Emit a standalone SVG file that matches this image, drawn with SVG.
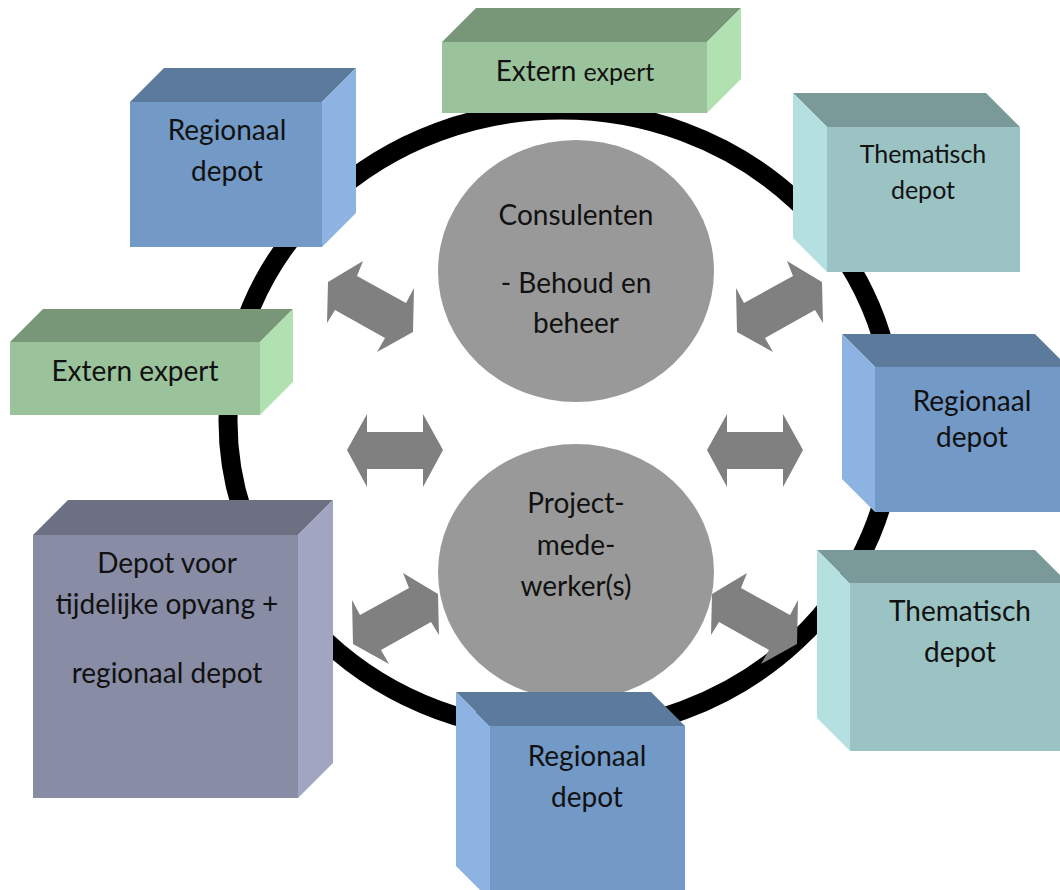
<svg xmlns="http://www.w3.org/2000/svg" width="1060" height="890" viewBox="0 0 1060 890">
<style>
text{font-family:Lato,"Liberation Sans",sans-serif;font-size:28px;fill:#111;text-anchor:middle}
.bf{fill:#7399C6}.bt{fill:#5B7A9C}.bs{fill:#8DB3E2}
.gf{fill:#9BC39B}.gt{fill:#789778}.gs{fill:#B1E0B1}
.tf{fill:#9CC3C3}.tt{fill:#7A9A99}.ts{fill:#B4E0E0}
.pf{fill:#898CA5}.pt{fill:#6D7083}.ps{fill:#A2A5C1}
.edge{stroke:#ffffff;stroke-opacity:0.35;stroke-width:1}
.arr{fill:#808080}
.hub{fill:#999999}
</style>
<rect width="1060" height="890" fill="#ffffff"/>
<g id="ring"><ellipse cx="561" cy="421" rx="333" ry="311" fill="none" stroke="#000" stroke-width="19"/></g>
<g id="consulenten"><ellipse class="hub" cx="576" cy="271" rx="138" ry="131"/>
<text x="576" y="225">Consulenten</text><text x="576" y="293">- Behoud en</text><text x="576" y="333">beheer</text></g>
<g id="projectmedewerkers"><ellipse class="hub" cx="576" cy="572" rx="138" ry="128"/>
<text x="576" y="513">Project-</text><text x="576" y="555">mede-</text><text x="576" y="596">werker(s)</text></g>
<g id="connectors">
<polygon class="arr" points="363,261 357,276 406,303 414,288 413,332 377,352 385,338 335,310 327,323 328,282"/>
<polygon class="arr" points="787,261 793,276 744,303 736,288 737,332 773,352 765,338 815,310 823,323 822,282"/>
<polygon class="arr" points="347,450 367,414 367,432 423,432 423,414 443,450 423,487 423,469 367,469 367,487"/>
<polygon class="arr" points="803,450 783,414 783,432 727,432 727,414 707,450 727,487 727,469 783,469 783,487"/>
<polygon class="arr" points="403,573 409,588 360,615 352,600 353,644 389,664 381,650 431,622 439,635 438,594"/>
<polygon class="arr" points="747,573 741,588 790,615 798,600 797,644 761,664 769,650 719,622 711,635 712,594"/>
</g>
<g id="regionaal-depot-1">
<polygon class="bt" points="130,102 164,68 356,68 322,102"/>
<polygon class="bs" points="322,102 356,68 356,213 322,247"/>
<rect class="bf" x="130" y="102" width="192" height="145"/>
<text x="227" y="140">Regionaal</text><text x="227" y="181">depot</text></g>
<g id="extern-expert-1">
<polygon class="gt" points="442,42 476,8 741,8 707,42"/>
<polygon class="gs" points="707,42 741,8 741,79 707,113"/>
<rect class="gf" x="442" y="42" width="265" height="71"/>
<text x="575" y="81">Extern <tspan style="font-size:25px">expert</tspan></text></g>
<g id="thematisch-depot-1">
<polygon class="tt" points="793,93 986,93 1020,127 827,127"/>
<polygon class="ts" points="793,93 827,127 827,272 793,238"/>
<rect class="tf" x="827" y="127" width="193" height="145"/>
<text x="923" y="163" style="font-size:25px">Thematisch</text><text x="923" y="199" style="font-size:25px">depot</text></g>
<g id="extern-expert-2">
<polygon class="gt" points="10,342 43,309 293,309 260,342"/>
<polygon class="gs" points="260,342 293,309 293,382 260,415"/>
<rect class="gf" x="10" y="342" width="250" height="73"/>
<text x="135" y="381">Extern expert</text></g>
<g id="regionaal-depot-2">
<polygon class="bt" points="842,334 1035,334 1068,367 875,367"/>
<polygon class="bs" points="842,334 875,367 875,512 842,479"/>
<rect class="bf" x="875" y="367" width="193" height="145"/>
<text x="972" y="411">Regionaal</text><text x="972" y="447">depot</text></g>
<g id="thematisch-depot-2">
<polygon class="tt" points="817,550 1035,550 1068,583 850,583"/>
<polygon class="ts" points="817,550 850,583 850,751 817,718"/>
<rect class="tf" x="850" y="583" width="218" height="168"/>
<text x="960" y="621">Thematisch</text><text x="960" y="662">depot</text></g>
<g id="regionaal-depot-3">
<polygon class="bt" points="456,692 651,692 685,726 490,726"/>
<polygon class="bs" points="456,692 490,726 490,900 456,866"/>
<rect class="bf" x="490" y="726" width="195" height="174"/>
<text x="587" y="766">Regionaal</text><text x="587" y="807">depot</text></g>
<g id="depot-tijdelijke-opvang">
<polygon class="pt" points="33,535 68,500 333,500 298,535"/>
<polygon class="ps" points="298,535 333,500 333,763 298,798"/>
<rect class="pf" x="33" y="535" width="265" height="263"/>
<text x="167" y="573">Depot voor</text><text x="167" y="614">tijdelijke opvang +</text><text x="167" y="683">regionaal depot</text></g>
</svg>
